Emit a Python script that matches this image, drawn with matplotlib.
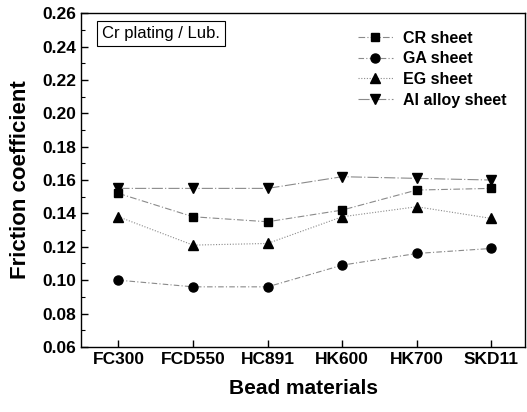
import matplotlib.pyplot as plt
from matplotlib.ticker import MultipleLocator

plt.rcParams['font.family'] = ['Liberation Sans', 'DejaVu Sans']

# bead materials on the x axis
materials = ["FC300", "FCD550", "HC891", "HK600", "HK700", "SKD11"]

# friction coefficient per sheet type
cr_sheet = [0.152, 0.138, 0.135, 0.142, 0.154, 0.155]
ga_sheet = [0.100, 0.096, 0.096, 0.109, 0.116, 0.119]
eg_sheet = [0.138, 0.121, 0.122, 0.138, 0.144, 0.137]
al_sheet = [0.155, 0.155, 0.155, 0.162, 0.161, 0.160]

x = list(range(1, len(materials) + 1))

fig = plt.figure(figsize=(5.27, 4.12), dpi=100)
ax = fig.add_axes([0.154, 0.158, 0.842, 0.810])

line_col = "#8a8a8a"
ax.plot(x, cr_sheet, marker="s", ms=6, color=line_col, mfc="black", mec="black",
        lw=0.8, ls=(0, (6, 2, 1, 2)), label="CR sheet")
ax.plot(x, ga_sheet, marker="o", ms=6.5, color=line_col, mfc="black", mec="black",
        lw=0.8, ls=(0, (5, 2, 1, 2)), label="GA sheet")
ax.plot(x, eg_sheet, marker="^", ms=7, color=line_col, mfc="black", mec="black",
        lw=0.8, ls=(0, (1, 1.5)), label="EG sheet")
ax.plot(x, al_sheet, marker="v", ms=7, color=line_col, mfc="black", mec="black",
        lw=0.8, ls=(0, (10, 2, 1, 2)), label="Al alloy sheet")

ax.set_xlim(0.5, 6.45)
ax.set_ylim(0.06, 0.26)
ax.set_xticks(x)
ax.set_xticklabels(materials)
ax.yaxis.set_major_locator(MultipleLocator(0.02))
ax.yaxis.set_minor_locator(MultipleLocator(0.01))
ax.yaxis.set_major_formatter(plt.FormatStrFormatter("%.2f"))
ax.tick_params(which="both", direction="in", labelsize=12.5)
ax.tick_params(which="major", length=5, width=1)
ax.tick_params(which="minor", length=3, width=0.8)
for lab in ax.get_xticklabels() + ax.get_yticklabels():
    lab.set_fontweight("bold")

for s in ax.spines.values():
    s.set_linewidth(1.0)

ax.set_xlabel("Bead materials", fontsize=15, fontweight="bold", labelpad=9)
ax.set_ylabel("Friction coefficient", fontsize=16, fontweight="bold", labelpad=8)

ax.text(0.785, 0.248, "Cr plating / Lub.", fontsize=12, va="center", ha="left",
        bbox=dict(boxstyle="square,pad=0.3", fc="white", ec="black", lw=0.8))

leg = ax.legend(loc="upper right", bbox_to_anchor=(0.99, 0.99), frameon=False,
                prop={"size": 11.5, "weight": "bold"}, handlelength=2.2,
                handletextpad=0.6, labelspacing=0.35)

fig.savefig("out.png", dpi=100)
